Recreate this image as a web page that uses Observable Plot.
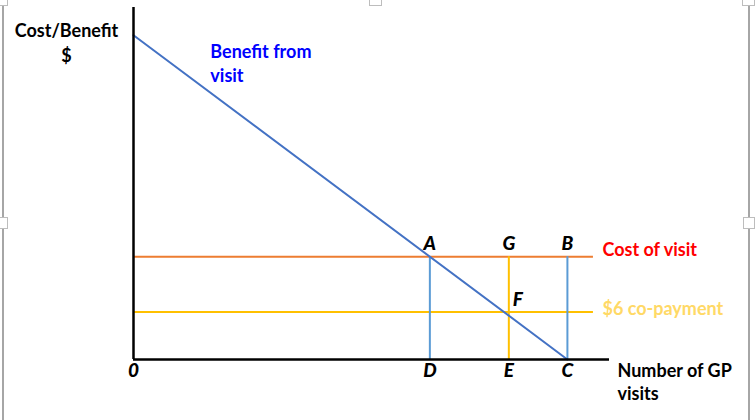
<!DOCTYPE html>
<html>
<head>
<meta charset="utf-8">
<script src="https://cdn.jsdelivr.net/npm/d3@7"></script>
<script src="https://cdn.jsdelivr.net/npm/@observablehq/plot@0.6"></script>
<style>
  html, body { margin: 0; padding: 0; background: #fff; }
  #wrap { position: relative; width: 755px; height: 420px; overflow: hidden; }
  .edge { position: absolute; background: #a6a6a6; width: 2px; top: 6px; bottom: 0; }
  .handle { position: absolute; border: 1.5px solid #bdbdbd; background: #fff; box-sizing: border-box; }
</style>
</head>
<body>
<div id="wrap">
  <div class="edge" style="left:2px"></div>
  <div class="edge" style="left:748px"></div>
  <div class="handle" style="left:-4px;top:-6px;width:12px;height:12px"></div>
  <div class="handle" style="left:369px;top:-6px;width:13px;height:12px"></div>
  <div class="handle" style="left:742px;top:-6px;width:13px;height:12px"></div>
  <div class="handle" style="left:-4px;top:217px;width:12px;height:12px"></div>
  <div class="handle" style="left:743px;top:217px;width:12px;height:12px"></div>
  <div id="chart" style="position:absolute;left:0;top:0"></div>
</div>
<script>
// Benefit (demand) curve for GP visits: $ value of each extra visit
const benefitQ = [0, 10];
const benefitP = [41, 0];

// Price levels
const costOfVisit = 13;
const coPayment = 6;

// Quantities of visits
const qD = 6.83;   // visits when patient pays full cost (point A)
const qE = 8.65;   // visits with the $6 co-payment (point F)
const qC = 10;     // visits when visits are free
const qLineEnd = 10.6;
const qAxisEnd = 10.97;
const pAxisTop = 44.5;

// Point letters
const pointNames = ["A", "G", "B", "F", "D", "E", "C", "0"];
const pointQ = [qD, qE, qC, qE, qD, qE, qC, 0];
const pointP = [costOfVisit, costOfVisit, costOfVisit, coPayment, 0, 0, 0, 0];

const benefit = benefitQ.map((q, i) => ({q, p: benefitP[i]}));
const points = pointNames.map((name, i) => ({name, q: pointQ[i], p: pointP[i]}));
const bold = "bold";
const font = "Lato, 'Open Sans', sans-serif";
const labelSize = 18;
const letterSize = 19;

const chart = Plot.plot({
  width: 755,
  height: 420,
  marginLeft: 133,
  marginRight: 146,
  marginTop: 7,
  marginBottom: 61,
  style: {fontFamily: font, background: "transparent"},
  x: {domain: [0, qAxisEnd], axis: null},
  y: {domain: [0, pAxisTop], axis: null},
  marks: [
    // cost of visit and co-payment levels
    Plot.ruleY([costOfVisit], {x1: 0, x2: qLineEnd, stroke: "#ED7D31", strokeWidth: 2}),
    Plot.ruleY([coPayment], {x1: 0, x2: qLineEnd, stroke: "#FFC000", strokeWidth: 2}),
    // drop lines
    Plot.ruleX([qD, qC], {y1: 0, y2: costOfVisit, stroke: "#5B9BD5", strokeWidth: 2}),
    Plot.ruleX([qE], {y1: 0, y2: costOfVisit, stroke: "#FFC000", strokeWidth: 2}),
    // benefit from visit
    Plot.line(benefit, {x: "q", y: "p", stroke: "#4472C4", strokeWidth: 2}),
    // axes
    Plot.ruleY([0], {x1: 0, x2: qAxisEnd, stroke: "#000", strokeWidth: 2.5}),
    Plot.ruleX([0], {y1: 0, y2: pAxisTop, stroke: "#000", strokeWidth: 2.5}),
    // point letters
    Plot.text(points.filter(d => d.p === costOfVisit), {
      x: "q", y: "p", text: "name", dy: -13, fontSize: letterSize, fontWeight: 900, fontStyle: "italic", fill: "#000"
    }),
    Plot.text(points.filter(d => d.p === coPayment), {
      x: "q", y: "p", text: "name", dx: 9, dy: -12, fontSize: letterSize, fontWeight: 900, fontStyle: "italic", fill: "#000"
    }),
    Plot.text(points.filter(d => d.p === 0), {
      x: "q", y: "p", text: "name", dy: 11, fontSize: letterSize, fontWeight: 900, fontStyle: "italic", fill: "#000"
    }),
    // line labels
    Plot.text(["Cost of visit"], {x: qLineEnd, y: costOfVisit, dx: 9, dy: -6, textAnchor: "start", fontSize: labelSize, fontWeight: bold, fill: "#FF0000"}),
    Plot.text(["$6 co-payment"], {x: qLineEnd, y: coPayment, dx: 9, dy: -3, textAnchor: "start", fontSize: labelSize, fontWeight: bold, fill: "#FFD966"}),
    Plot.text(["Benefit from\nvisit"], {x: 1.77, y: 37.55, textAnchor: "start", lineHeight: 1.34, fontSize: labelSize, fontWeight: bold, fill: "#0000FF"}),
    Plot.text(["Number of GP\nvisits"], {x: qAxisEnd, y: 0, dx: 8, dy: 22, textAnchor: "start", lineHeight: 1.28, fontSize: labelSize, fontWeight: bold, fill: "#000"}),
    Plot.text(["Cost/Benefit\n$"], {x: 0, y: pAxisTop, dx: -67, dy: 33.5, textAnchor: "middle", lineHeight: 1.39, fontSize: labelSize, fontWeight: bold, fill: "#000"})
  ]
});
document.getElementById("chart").appendChild(chart);
</script>
</body>
</html>
